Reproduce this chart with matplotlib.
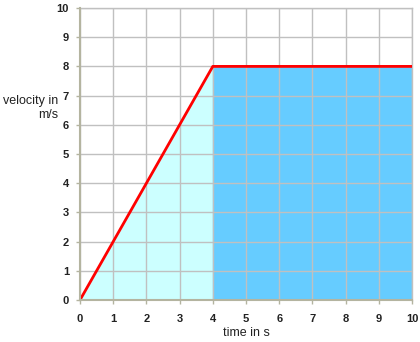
import numpy as np
from matplotlib import pyplot as plt

# velocity-time data
time = [0, 4, 10]
velocity = [0, 8, 8]
x_ticks = list(range(0, 11))
y_ticks = list(range(0, 11))

plt.rcParams['font.family'] = ['Liberation Sans', 'DejaVu Sans']

fig = plt.figure(figsize=(4.2, 3.42), dpi=100)
ax = fig.add_axes([80 / 420, 42 / 342, 332 / 420, 292 / 342])

# shaded areas under the curve
ax.fill_between(time[:2], 0, velocity[:2], color='#ccffff', zorder=1)
ax.fill_between(time[1:], 0, velocity[1:], color='#66ccff', zorder=1)

ax.plot(time, velocity, color='#ff0000', lw=2, zorder=4, solid_capstyle='butt')

ax.set_xlim(0, 10)
ax.set_ylim(0, 10)
ax.set_xticks(x_ticks)
ax.set_yticks(y_ticks)
ax.grid(True, color='#c0c0c0', lw=1, zorder=2)
ax.set_axisbelow(False)
for line in ax.get_xgridlines() + ax.get_ygridlines():
    line.set_zorder(2)

axis_color = '#b4b4a0'
for side in ['left', 'bottom']:
    ax.spines[side].set_color(axis_color)
    ax.spines[side].set_linewidth(1.5)
    ax.spines[side].set_zorder(5)
for side in ['top', 'right']:
    ax.spines[side].set_color('#c0c0c0')
    ax.spines[side].set_linewidth(1)

ax.tick_params(direction='out', length=3, width=1, color=axis_color,
               labelsize=8, labelcolor='#222222')
ax.tick_params(axis='x', pad=7)
ax.tick_params(axis='y', pad=5)
for lbl in ax.get_xticklabels() + ax.get_yticklabels():
    lbl.set_fontweight('bold')

fig.text(58 / 420, 1 - 108 / 342, "velocity in\nm/s", ha='right', va='center',
         fontsize=9, color='#222222', multialignment='right', linespacing=1.2)
fig.text(246 / 420, 1 - 333 / 342, "time in s", ha='center', va='center',
         fontsize=9, color='#222222')

fig.savefig('out.png', dpi=100)
